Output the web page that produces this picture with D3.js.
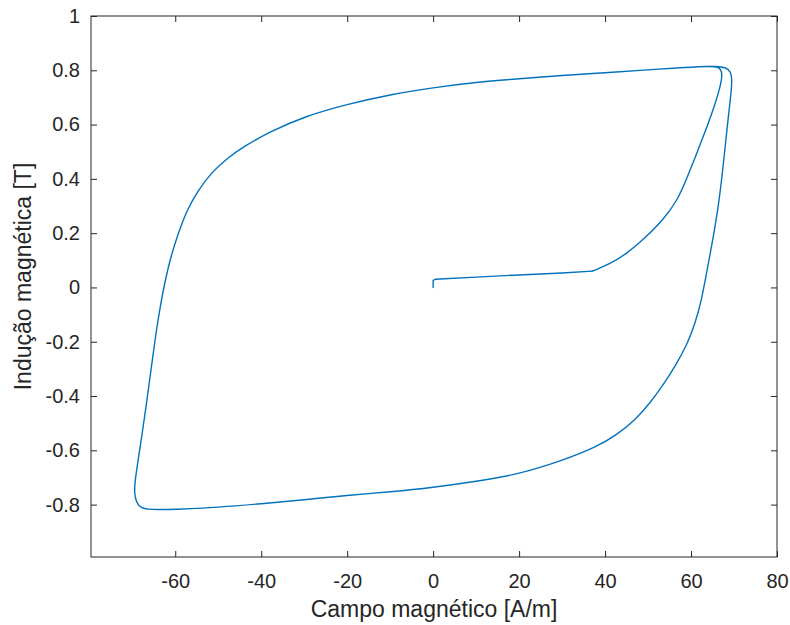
<!DOCTYPE html>
<html>
<head>
<meta charset="utf-8">
<script src="https://cdn.jsdelivr.net/npm/d3@7"></script>
<style>
  html, body { margin: 0; padding: 0; background: #fff; }
  svg { display: block; }
  text { font-family: "Liberation Sans", Arial, Helvetica, sans-serif; fill: #262626; }
</style>
</head>
<body>
<svg id="chart" width="790" height="625"></svg>
<script>
// Magnetic field H [A/m] along the measured trajectory:
// first magnetisation curve, then the full hysteresis loop.
const fieldH = [
  0, 0, 0.5, 10, 20, 30, 37,
  41, 45, 49, 53.6, 57, 59.1, 61.5, 63.7, 65.5, 66.8, 67.3, 66.9, 66, 64.5,
  59, 50, 40, 30, 20, 10, 0, -10, -20, -30, -38, -44, -48, -51.8, -55, -57.3,
  -59.3, -61, -62.3, -63.5, -64.6, -65.6, -66.6, -67.8, -68.9, -69.4, -69.5, -69.1, -68, -66,
  -60, -50, -40, -30, -20, -10, 0, 10, 20, 30, 38, 43, 47, 50.5, 53.5, 56.5, 59.1,
  61, 62.4, 63.7, 65, 66.4, 67.5, 68.4, 69.2, 69.6, 69.2, 68, 66, 63
];
// Magnetic induction B [T] at each of those points.
const inductionB = [
  0, 0.026, 0.03, 0.038, 0.046, 0.053, 0.06,
  0.085, 0.124, 0.178, 0.25, 0.325, 0.405, 0.5, 0.592, 0.67, 0.739, 0.785, 0.805, 0.813, 0.815,
  0.811, 0.802, 0.791, 0.781, 0.769, 0.756, 0.736, 0.711, 0.675, 0.63, 0.573, 0.52, 0.475, 0.42, 0.35, 0.284,
  0.2, 0.115, 0.03, -0.07, -0.18, -0.3, -0.417, -0.55, -0.663, -0.72, -0.755, -0.792, -0.812, -0.819,
  -0.818, -0.81, -0.797, -0.782, -0.766, -0.753, -0.737, -0.715, -0.688, -0.638, -0.588, -0.54, -0.488, -0.425, -0.36, -0.285, -0.21,
  -0.13, -0.05, 0.06, 0.17, 0.3, 0.45, 0.59, 0.7, 0.764, 0.797, 0.811, 0.815, 0.813
];
// index where the straight start-up segment meets the rising curve
const kneeIndex = 6;

const xTicks = [-60, -40, -20, 0, 20, 40, 60, 80];
const yTicks = [-0.8, -0.6, -0.4, -0.2, 0, 0.2, 0.4, 0.6, 0.8, 1];
const xLabel = "Campo magnético [A/m]";
const yLabel = "Indução magnética [T]";

const points = fieldH.map((h, i) => ({ h, b: inductionB[i] }));

const box = { left: 91, right: 777, top: 16, bottom: 557 };
const svg = d3.select("#chart");

const x = d3.scaleLinear().domain([-79.6, 80]).range([box.left, box.right]);
const y = d3.scaleLinear().domain([-0.993, 1]).range([box.bottom, box.top]);

const tickLen = 6;
const axisColor = "#262626";
// plain hyphen-minus for negative tick labels
const fmt = d => String(+d.toFixed(1));

function styleAxis(g) {
  g.select(".domain").remove();
  g.selectAll(".tick line").attr("stroke", axisColor);
  g.selectAll(".tick text").attr("fill", axisColor)
    .style("font-family", '"Liberation Sans", Arial, sans-serif')
    .style("font-size", "20px");
}

// bottom axis with labels, top axis mirrored without labels
svg.append("g").attr("transform", `translate(0,${box.bottom})`)
  .call(d3.axisBottom(x).tickValues(xTicks).tickSizeInner(-tickLen).tickSizeOuter(0).tickPadding(17).tickFormat(fmt))
  .call(styleAxis);
svg.append("g").attr("transform", `translate(0,${box.top})`)
  .call(d3.axisTop(x).tickValues(xTicks).tickSizeInner(-tickLen).tickSizeOuter(0).tickFormat(""))
  .call(styleAxis);

// left axis with labels, right axis mirrored without labels
svg.append("g").attr("transform", `translate(${box.left},0)`)
  .call(d3.axisLeft(y).tickValues(yTicks).tickSizeInner(-tickLen).tickSizeOuter(0).tickPadding(11).tickFormat(fmt))
  .call(styleAxis);
svg.append("g").attr("transform", `translate(${box.right},0)`)
  .call(d3.axisRight(y).tickValues(yTicks).tickSizeInner(-tickLen).tickSizeOuter(0).tickFormat(""))
  .call(styleAxis);

// axes box
svg.append("rect")
  .attr("x", box.left).attr("y", box.top)
  .attr("width", box.right - box.left).attr("height", box.bottom - box.top)
  .attr("fill", "none").attr("stroke", axisColor).attr("stroke-width", 1);

// B-H trajectory: straight start-up segment, then the smooth loop
const straight = d3.line().x(d => x(d.h)).y(d => y(d.b));
const smooth = d3.line().x(d => x(d.h)).y(d => y(d.b)).curve(d3.curveBasis);

const traj = svg.append("g")
  .attr("fill", "none")
  .attr("stroke", "#0072BD")
  .attr("stroke-width", 1.4)
  .attr("stroke-linejoin", "round")
  .attr("stroke-linecap", "round");

traj.append("path").datum(points.slice(0, kneeIndex + 1)).attr("d", straight);
traj.append("path").datum(points.slice(kneeIndex)).attr("d", smooth);

// axis titles
svg.append("text")
  .attr("x", (box.left + box.right) / 2)
  .attr("y", 617)
  .attr("text-anchor", "middle")
  .style("font-size", "23px")
  .text(xLabel);

svg.append("text")
  .attr("transform", `translate(31,${(box.top + box.bottom) / 2 - 10}) rotate(-90)`)
  .attr("text-anchor", "middle")
  .style("font-size", "23px")
  .text(yLabel);
</script>
</body>
</html>
